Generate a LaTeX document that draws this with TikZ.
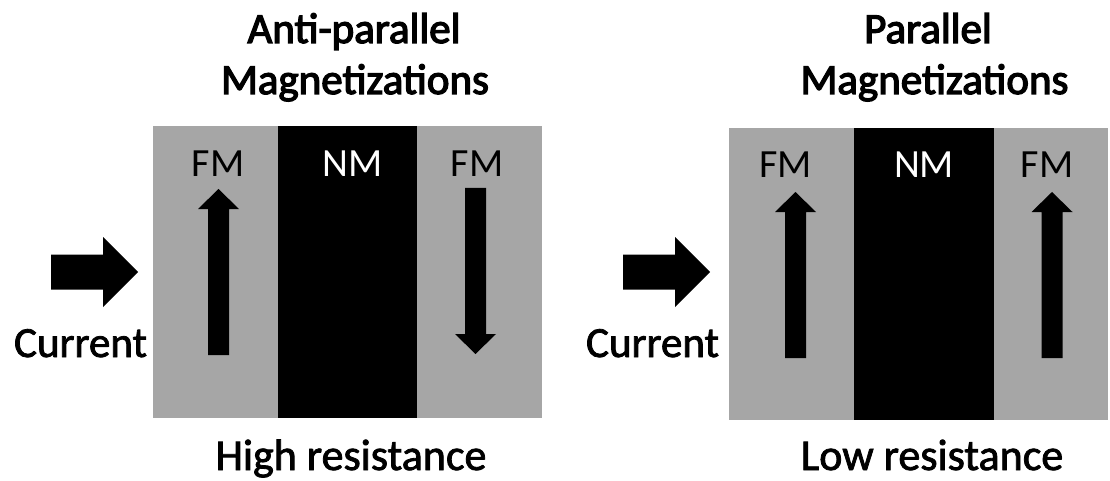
\documentclass[tikz,border=0pt]{standalone}
\usepackage{fontspec}
\setmainfont{Carlito}
\newfontface\heavyface[FakeBold=3]{Carlito}
\newfontface\semiface[FakeBold=1.8]{Carlito}
\definecolor{fmgrey}{HTML}{A6A6A6}
\begin{document}
\begin{tikzpicture}[x=1pt,y=-1pt,
  fmlayer/.style={fill=fmgrey},
  nmlayer/.style={fill=black},
  layertext/.style={anchor=base, inner sep=0pt, font=\fontsize{40}{48}\selectfont},
  headline/.style={anchor=base, inner sep=0pt, font=\heavyface\fontsize{43}{50}\selectfont},
  caption/.style={anchor=base, inner sep=0pt, font=\semiface\fontsize{44}{52}\selectfont},
  currenttext/.style={anchor=base, inner sep=0pt, font=\semiface\fontsize{43}{52}\selectfont},
  % magnetization arrow: base at origin, tip 166 units away
  magarrow/.pic={\fill (-10.5,0) -- (-10.5,-146) -- (-20.5,-146) -- (0,-166)
                   -- (20.5,-146) -- (10.5,-146) -- (10.5,0) -- cycle;},
  % block arrow for the current direction, tail at origin
  currentarrow/.pic={\fill (0,-17.5) -- (52,-17.5) -- (52,-35) -- (87,0)
                   -- (52,35) -- (52,17.5) -- (0,17.5) -- cycle;},
]
\useasboundingbox (0,0) rectangle (1110,481);

% ---------- anti-parallel stack ----------
\fill[fmlayer] (152.5,126) rectangle (542,417.5);
\fill[nmlayer] (277.5,126) rectangle (417,417.5);
\node[layertext] (apfm1) at (218,176) {FM};
\node[layertext, text=white] (apnm) at (353,176) {NM};
\node[layertext] (apfm2) at (477,176) {FM};
\pic at (218.5,355) {magarrow};
\pic[rotate=180] at (475.5,188) {magarrow};
\pic at (51,272) {currentarrow};
\node[currenttext] (apcur) at (80.5,357) {Current};
\node[headline] (aptitle1) at (354,43) {Anti-parallel};
\node[headline] (aptitle2) at (355,94) {Magnetizations};
\node[caption] (aphigh) at (351,470) {High resistance};

% ---------- parallel stack ----------
\fill[fmlayer] (729,128) rectangle (1108,420);
\fill[nmlayer] (854,128) rectangle (994,420);
\node[layertext] (pfm1) at (785.5,178) {FM};
\node[layertext, text=white] (pnm) at (924,178) {NM};
\node[layertext] (pfm2) at (1047,178) {FM};
\pic at (795.5,358) {magarrow};
\pic at (1052,358) {magarrow};
\pic at (623,272) {currentarrow};
\node[currenttext] (pcur) at (652.5,357) {Current};
\node[headline] (ptitle1) at (928,43) {Parallel};
\node[headline] (ptitle2) at (934.5,94) {Magnetizations};
\node[caption] (plow) at (932,470) {Low resistance};
\end{tikzpicture}
\end{document}
